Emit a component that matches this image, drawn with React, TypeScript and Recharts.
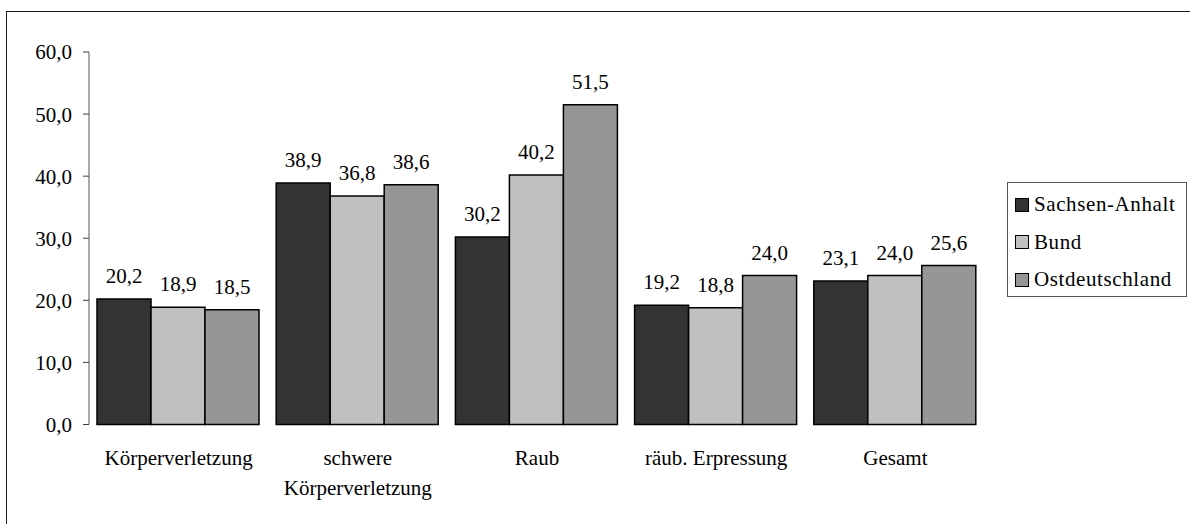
import { BarChart, Bar, XAxis, YAxis, Legend, LabelList } from 'recharts';

const categories = ['Körperverletzung', 'schwere\nKörperverletzung', 'Raub', 'räub. Erpressung', 'Gesamt'];
const sachsenAnhalt = [20.2, 38.9, 30.2, 19.2, 23.1];
const bund = [18.9, 36.8, 40.2, 18.8, 24.0];
const ostdeutschland = [18.5, 38.6, 51.5, 24.0, 25.6];
const yTicks = [0, 10, 20, 30, 40, 50, 60];
const edgeTicks = [0, 1, 2, 3, 4, 5];

const seriesList = [
  { key: 'sa', name: 'Sachsen-Anhalt', color: '#333333' },
  { key: 'bund', name: 'Bund', color: '#c0c0c0' },
  { key: 'ost', name: 'Ostdeutschland', color: '#969696' },
];

const data = categories.map((cat, i) => ({
  cat,
  sa: sachsenAnhalt[i],
  bund: bund[i],
  ost: ostdeutschland[i],
}));

const FONT = 'Liberation Serif, Times New Roman, Tinos, DejaVu Serif, serif';
const fmt = (v: number) => v.toFixed(1).replace('.', ',');

// multi-line category labels
function CatTick({ x, y, payload }: any) {
  const lines = String(payload.value).split('\n');
  return (
    <text x={x} y={y} textAnchor="middle" style={{ fontFamily: FONT, fontSize: 21 }} fill="#000">
      {lines.map((l, i) => (
        <tspan key={i} x={x} dy={i === 0 ? 26 : 30}>{l}</tspan>
      ))}
    </text>
  );
}

function LegendBox() {
  return (
    <div
      style={{
        border: '1px solid #555',
        background: '#fff',
        width: 180,
        height: 115,
        boxSizing: 'border-box',
        padding: '3px 0 0 7px',
        fontFamily: FONT,
        fontSize: 21,
        letterSpacing: 0.6,
        color: '#000',
      }}
    >
      {seriesList.map((s) => (
        <div key={s.key} style={{ display: 'flex', alignItems: 'center', height: 37.5 }}>
          <span
            style={{
              display: 'inline-block',
              width: 14,
              height: 14,
              background: s.color,
              border: '1.5px solid #000',
              boxSizing: 'border-box',
              marginRight: 5,
            }}
          />
          <span>{s.name}</span>
        </div>
      ))}
    </div>
  );
}

export default function App() {
  return (
    <div style={{ position: 'absolute', left: 0, top: 0, width: 1190, height: 524, overflow: 'hidden', background: '#fff' }}>
      <div
        style={{
          position: 'absolute',
          left: 6,
          top: 11,
          width: 1300,
          height: 700,
          borderLeft: '1.5px solid #1a1a1a',
          borderTop: '1.5px solid #1a1a1a',
        }}
      />
      <div style={{ position: 'absolute', left: 0, top: 0 }}>
        <BarChart
          width={1190}
          height={524}
          data={data}
          margin={{ top: 52, right: 205, left: 0, bottom: 0 }}
          barCategoryGap={8}
          barGap={0}
        >
          <XAxis
            xAxisId="edges"
            type="number"
            domain={[0, 5]}
            allowDataOverflow
            ticks={edgeTicks}
            tick={false}
            tickSize={6}
            height={0}
            axisLine={{ stroke: '#555' }}
            tickLine={{ stroke: '#444' }}
          />
          <XAxis
            dataKey="cat"
            interval={0}
            axisLine={false}
            tickLine={false}
            tick={<CatTick />}
            tickMargin={8}
            height={99.5}
          />
          <YAxis
            domain={[0, 60]}
            ticks={yTicks}
            width={89}
            tickSize={6}
            tickMargin={11}
            axisLine={{ stroke: '#555' }}
            tickLine={{ stroke: '#444' }}
            tickFormatter={fmt}
            tick={{ fill: '#000', fontSize: 21, fontFamily: FONT }}
          />
          <Legend
            content={<LegendBox />}
            layout="horizontal"
            align="center"
            verticalAlign="middle"
            wrapperStyle={{ left: 1007, top: 182, width: 'auto' }}
          />
          {seriesList.map((s) => (
            <Bar key={s.key} dataKey={s.key} name={s.name} fill={s.color} stroke="#000" strokeWidth={1.5} isAnimationActive={false}>
              <LabelList
                dataKey={s.key}
                position="top"
                offset={16}
                formatter={(v: any) => fmt(Number(v))}
                style={{ fill: '#000', fontSize: 21, fontFamily: FONT }}
              />
            </Bar>
          ))}
        </BarChart>
      </div>
    </div>
  );
}
